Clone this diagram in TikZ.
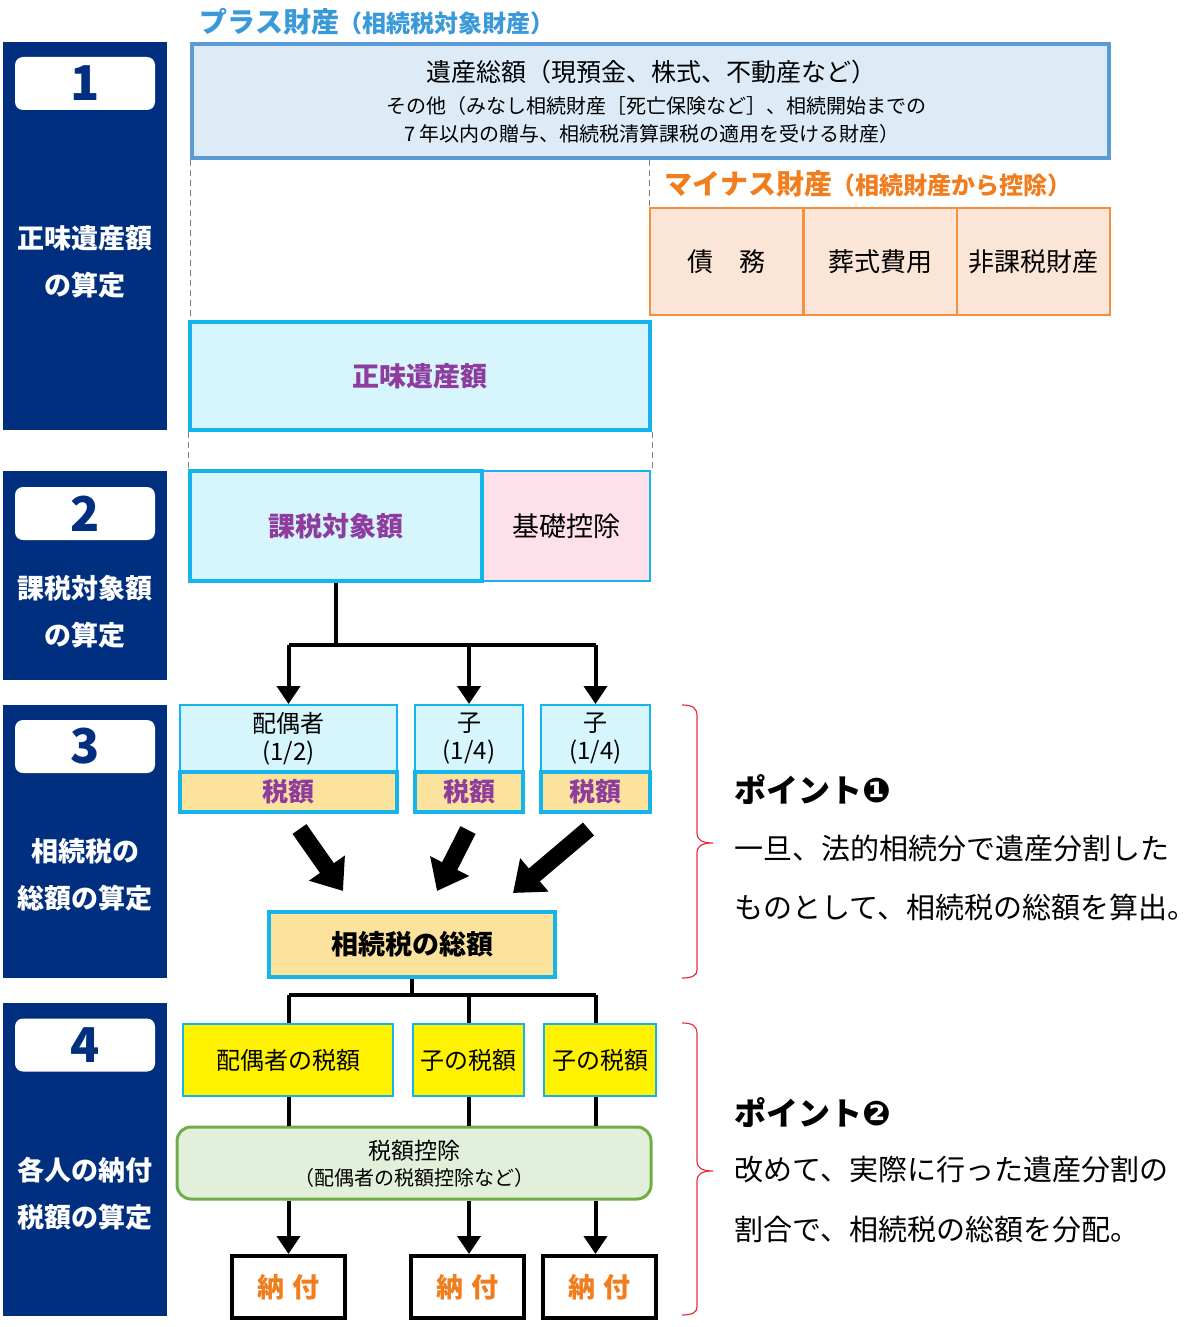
\documentclass[tikz,border=0pt]{standalone}
\usepackage{fontspec}
\setmainfont{Noto Sans CJK JP}
\newfontfamily\dingfont{DejaVu Sans}
\usetikzlibrary{arrows.meta, calc}
\definecolor{navy}{HTML}{002F80}
\definecolor{plusblue}{HTML}{3A9AD9}
\definecolor{grossfill}{HTML}{DDEBF7}
\definecolor{grossline}{HTML}{5B9BD5}
\definecolor{minusorange}{HTML}{F07D1E}
\definecolor{minusfill}{HTML}{FBE5D6}
\definecolor{minusline}{HTML}{F4903F}
\definecolor{cyanline}{HTML}{15B4EA}
\definecolor{cyanfill}{HTML}{D7F5FC}
\definecolor{netpurple}{HTML}{8E3C9E}
\definecolor{kisopink}{HTML}{FDE0EA}
\definecolor{taxfill}{HTML}{FCE39D}
\definecolor{greenfill}{HTML}{E2EFDA}
\definecolor{greenline}{HTML}{70AD47}
\definecolor{bracered}{HTML}{E8303A}

\begin{document}
\begin{tikzpicture}[x=1pt, y=-1pt,
  panel/.style={fill=navy, minimum width=164pt, inner sep=0pt},
  numbox/.style={fill=white, rounded corners=8pt, minimum width=140pt, minimum height=53pt, inner sep=0pt, text=navy, font=\fontsize{48}{48}\selectfont\bfseries},
  steplabel/.style={text=white, align=center, font=\fontsize{27}{47}\selectfont\bfseries},
  box/.style={draw, inner sep=0pt, align=center},
  cyanbox/.style={box, draw=cyanline, fill=cyanfill, line width=#1},
  minusbox/.style={box, draw=minusline, fill=minusfill, line width=2pt, minimum width=153pt, minimum height=107pt, font=\fontsize{26}{26}\selectfont},
  taxbox/.style={box, draw=cyanline, fill=taxfill, line width=4pt, minimum height=40pt, text=netpurple, font=\fontsize{26}{26}\selectfont\bfseries},
  heirbox/.style={cyanbox=2pt, minimum height=67pt, font=\fontsize{24}{28}\selectfont},
  ytaxbox/.style={box, draw=cyanline, fill=yellow, line width=2.5pt, minimum height=72pt, font=\fontsize{24}{24}\selectfont},
  paybox/.style={box, draw=black, fill=white, line width=4pt, minimum width=113pt, minimum height=62pt, text=minusorange, font=\fontsize{27}{27}\selectfont\bfseries},
  conn/.style={line width=4pt},
  arr/.style={line width=4pt, -{Triangle[length=18pt, width=23pt]}},
  fatarrow/.style={line width=17pt, -{Triangle[length=28pt, width=42pt]}},
  guide/.style={draw=gray, line width=1pt, dash pattern=on 6pt off 4pt},
  pointbrace/.style={draw=bracered, line width=1.2pt},
  headtext/.style={anchor=west, font=\fontsize{32}{32}\selectfont\bfseries},
  bodytext/.style={anchor=west, font=\fontsize{29}{29}\selectfont}
]
\useasboundingbox (0,0) rectangle (1200,1327);

% left step panels
\node[panel, minimum height=388pt] (p1) at (85,236) {};
\node[panel, minimum height=209pt] (p2) at (85,575.5) {};
\node[panel, minimum height=273pt] (p3) at (85,841.5) {};
\node[panel, minimum height=313pt] (p4) at (85,1159.5) {};
\node[numbox] (n1) at (85,83.5) {1};
\node[numbox] (n2) at (85,513.5) {2};
\node[numbox] (n3) at (85,746.5) {3};
\node[numbox] (n4) at (85,1045) {4};
\node[steplabel] (s1) at (85,261.5) {正味遺産額\\の算定};
\node[steplabel] (s2) at (85,611.5) {課税対象額\\の算定};
\node[steplabel] (s3) at (85,874.5) {相続税の\\総額の算定};
\node[steplabel] (s4) at (85,1194) {各人の納付\\税額の算定};

% step 1
\node[anchor=west, text=plusblue, font=\bfseries] (plus) at (196,22) {{\fontsize{28}{28}\selectfont プラス財産}{\fontsize{24}{24}\selectfont（相続税対象財産）}};
\node[box, draw=grossline, fill=grossfill, line width=4pt, minimum width=917pt, minimum height=114pt] (gross) at (650.5,101) {};
\node[font=\fontsize{25}{25}\selectfont] (gross1) at (651,72) {遺産総額（現預金、株式、不動産など）};
\node[font=\fontsize{20}{20}\selectfont] (gross2) at (656,106) {その他（みなし相続財産［死亡保険など］、相続開始までの};
\node[font=\fontsize{20}{20}\selectfont] (gross3) at (652,134) {7 年以内の贈与、相続税清算課税の適用を受ける財産）};

\node[anchor=west, text=minusorange, font=\bfseries] (minus) at (661,184) {{\fontsize{28}{28}\selectfont マイナス財産}{\fontsize{24}{24}\selectfont（相続財産から控除）}};
\node[minusbox] (debt) at (726.5,261.5) {債　務};
\node[minusbox] (funeral) at (880,261.5) {葬式費用};
\node[minusbox] (nontax) at (1033.5,261.5) {非課税財産};

\node[cyanbox=4pt, minimum width=460pt, minimum height=108pt, text=netpurple, font=\fontsize{27}{27}\selectfont\bfseries] (net) at (420,376) {正味遺産額};

% step 2
\node[box, draw=cyanline, fill=kisopink, line width=1.5pt, minimum width=168pt, minimum height=110pt, font=\fontsize{27}{27}\selectfont] (kiso) at (566,526) {基礎控除};
\node[cyanbox=4pt, minimum width=292pt, minimum height=110pt, text=netpurple, font=\fontsize{27}{27}\selectfont\bfseries] (kazei) at (336,526) {課税対象額};

\draw[guide] (gross.south west) -- (gross.south west |- net.north);
\draw[guide] (net.south west) -- (net.south west |- kazei.north);
\draw[guide] (debt.north west |- gross.south) -- (debt.north west);
\draw[guide] (net.south east) -- (net.south east |- kiso.north);

% step 3
\node[heirbox, minimum width=217pt] (sp1) at (288.5,738.5) {配偶者\\(1/2)};
\node[heirbox, minimum width=108pt] (ko1) at (469,738.5) {子\\(1/4)};
\node[heirbox, minimum width=109pt] (ko2) at (595.5,738.5) {子\\(1/4)};
\node[taxbox, minimum width=217pt] (tax1) at (288.5,792) {税額};
\node[taxbox, minimum width=108pt] (tax2) at (469,792) {税額};
\node[taxbox, minimum width=109pt] (tax3) at (595.5,792) {税額};

\coordinate (split1) at (kazei.south |- 0,645);
\draw[conn] (kazei.south) -- (split1);
\draw[conn] (sp1.north |- split1) -- (ko2.north |- split1);
\draw[arr] (sp1.north |- split1) -- (sp1.north);
\draw[arr] (ko1.north |- split1) -- (ko1.north);
\draw[arr] (ko2.north |- split1) -- (ko2.north);

\node[box, draw=cyanline, fill=taxfill, line width=4pt, minimum width=286pt, minimum height=65pt, font=\fontsize{27}{27}\selectfont\bfseries] (total) at (412,944.5) {相続税の総額};

\draw[fatarrow] ($(tax1.south)+(11,15)$) -- ($(total.north)+(-69,-19)$);
\draw[fatarrow] ($(tax2.south)+(-1,16)$) -- ($(total.north)+(25,-19)$);
\draw[fatarrow] ($(tax3.south)+(-7,15)$) -- ($(total.north)+(101,-17)$);

% step 4
\node[ytaxbox, minimum width=210pt] (ytax1) at (288,1060) {配偶者の税額};
\node[ytaxbox, minimum width=111pt] (ytax2) at (468.5,1060) {子の税額};
\node[ytaxbox, minimum width=112pt] (ytax3) at (600,1060) {子の税額};

\coordinate (split2) at (total.south |- 0,995);
\draw[conn] (total.south) -- (split2);
\draw[conn] (sp1.north |- split2) -- (ko2.north |- split2);
\draw[conn] (sp1.north |- split2) -- (sp1.north |- ytax1.north);
\draw[conn] (ko1.north |- split2) -- (ko1.north |- ytax2.north);
\draw[conn] (ko2.north |- split2) -- (ko2.north |- ytax3.north);

\node[box, draw=greenline, fill=greenfill, line width=3pt, rounded corners=14pt, minimum width=474pt, minimum height=72pt] (gtax) at (414,1163) {};
\node[font=\fontsize{23}{23}\selectfont] (gtax1) at (414,1151) {税額控除};
\node[font=\fontsize{20}{20}\selectfont] (gtax2) at (414,1178) {（配偶者の税額控除など）};

\draw[conn] (sp1.north |- ytax1.south) -- (sp1.north |- gtax.north);
\draw[conn] (ko1.north |- ytax2.south) -- (ko1.north |- gtax.north);
\draw[conn] (ko2.north |- ytax3.south) -- (ko2.north |- gtax.north);

\node[paybox] (pay1) at (288.5,1287) {納\hspace{8pt}付};
\node[paybox] (pay2) at (467.5,1287) {納\hspace{8pt}付};
\node[paybox] (pay3) at (599.5,1287) {納\hspace{8pt}付};

\draw[arr] (sp1.north |- gtax.south) -- (sp1.north |- pay1.north);
\draw[arr] (ko1.north |- gtax.south) -- (ko1.north |- pay2.north);
\draw[arr] (ko2.north |- gtax.south) -- (ko2.north |- pay3.north);

% points
\draw[pointbrace] (682,705) .. controls (693,705) and (697,708) .. (697,716) -- (697,833)
  .. controls (697,840) and (702,843) .. (713,843) .. controls (702,843) and (697,846) .. (697,853)
  -- (697,970) .. controls (697,975) and (693,978) .. (682,978);
\draw[pointbrace] (682,1023) .. controls (693,1023) and (697,1026) .. (697,1034) -- (697,1161)
  .. controls (697,1168) and (702,1171) .. (713,1171) .. controls (702,1171) and (697,1174) .. (697,1181)
  -- (697,1307) .. controls (697,1312) and (693,1315) .. (682,1315);
\node[headtext] (pt1) at (731,790) {ポイント{\dingfont\fontsize{34}{34}\selectfont ❶}};
\node[bodytext] (pt1a) at (731,848) {一旦、法的相続分で遺産分割した};
\node[bodytext] (pt1b) at (731,907) {ものとして、相続税の総額を算出。};
\node[headtext] (pt2) at (731,1113) {ポイント{\dingfont\fontsize{34}{34}\selectfont ❷}};
\node[bodytext] (pt2a) at (731,1170) {改めて、実際に行った遺産分割の};
\node[bodytext] (pt2b) at (731,1230) {割合で、相続税の総額を分配。};
\end{tikzpicture}
\end{document}
